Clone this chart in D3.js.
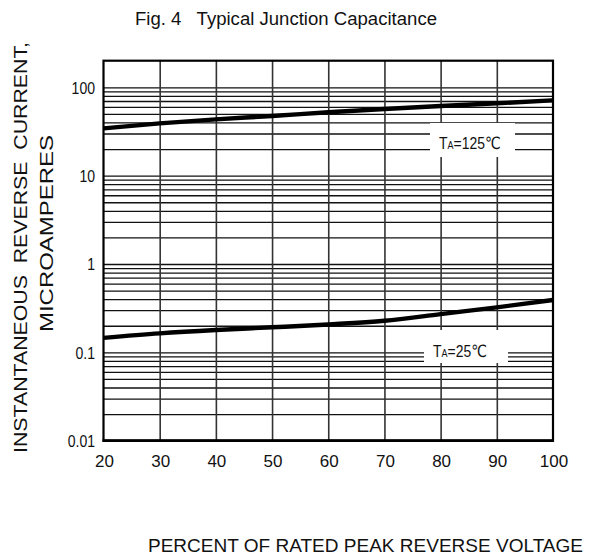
<!DOCTYPE html>
<html>
<head>
<meta charset="utf-8">
<script src="https://cdn.jsdelivr.net/npm/d3@7/dist/d3.min.js"></script>
<style>
  html, body { margin: 0; padding: 0; background: #fff; }
  svg { display: block; }
  text { font-family: Arial, "Liberation Sans", "DejaVu Sans", sans-serif; fill: #111; }
</style>
</head>
<body>
<svg id="chart" width="604" height="556"></svg>
<script>
// ---- data ----
const percentVoltage = [20, 30, 40, 50, 60, 70, 80, 90, 100];
const current125 = [34.3, 39.1, 43.4, 47.3, 52.1, 56.8, 61.4, 65.9, 71.2];
const current25 = [0.146, 0.164, 0.179, 0.192, 0.207, 0.228, 0.271, 0.323, 0.391];
const xTickValues = [20, 30, 40, 50, 60, 70, 80, 90, 100];
const yTickValues = [0.01, 0.1, 1, 10, 100];
const yTickLabels = ["0.01", "0.1", "1", "10", "100"];
const titleText = "Fig. 4   Typical Junction Capacitance";
const xLabelText = "PERCENT OF RATED PEAK REVERSE VOLTAGE";
const yLabelLine1 = "INSTANTANEOUS  REVERSE  CURRENT,";
const yLabelLine2 = "MICROAMPERES";
const seriesLabels = [
  { name: "125", sub: "A", pre: "T", post: "=125\u2103" },
  { name: "25", sub: "A", pre: "T", post: "=25\u2103" }
];

// ---- layout ----
const svg = d3.select("#chart");
const L = 103.5, R = 553, T = 60.7, B = 440.7;
const x = d3.scaleLinear().domain([20, 100]).range([L, R]);
const y = d3.scaleLog().domain([0.01, 200]).range([B, T]);

// minor grid values (1..9 per decade)
const gridY = [];
[0.01, 0.1, 1, 10].forEach(dec => { for (let k = 1; k <= 9; k++) gridY.push(+(dec * k).toPrecision(3)); });
gridY.push(100);

// horizontal grid via axis
svg.append("g")
  .attr("transform", `translate(${L},0)`)
  .call(d3.axisLeft(y).tickValues(gridY).tickSize(-(R - L)).tickFormat(""))
  .call(g => g.select(".domain").remove())
  .call(g => g.selectAll(".tick line").attr("stroke", "#111").attr("stroke-width", 1.3));

// vertical grid via axis
svg.append("g")
  .attr("transform", `translate(0,${B})`)
  .call(d3.axisBottom(x).tickValues(xTickValues.slice(1, -1)).tickSize(-(B - T)).tickFormat(""))
  .call(g => g.select(".domain").remove())
  .call(g => g.selectAll(".tick line").attr("stroke", "#333").attr("stroke-width", 1.6));

// label boxes (white, interrupt grid)
const boxes = [
  { x0: 430, x1: 515, y0: 123, y1: 157 },
  { x0: 424, x1: 508, y0: 330, y1: 363 }
];
svg.selectAll("rect.lbox").data(boxes).join("rect")
  .attr("class", "lbox")
  .attr("x", d => d.x0).attr("y", d => d.y0)
  .attr("width", d => d.x1 - d.x0).attr("height", d => d.y1 - d.y0)
  .attr("fill", "#fff");

// frame
svg.append("rect")
  .attr("x", L).attr("y", T).attr("width", R - L).attr("height", B - T)
  .attr("fill", "none").attr("stroke", "#000").attr("stroke-width", 2.2);
svg.append("line")
  .attr("x1", L - 1).attr("x2", R + 1).attr("y1", B).attr("y2", B)
  .attr("stroke", "#000").attr("stroke-width", 2.8);

// curves
const line = d3.line().x(d => x(d[0])).y(d => y(d[1])).curve(d3.curveMonotoneX);
[current125, current25].forEach(vals => {
  svg.append("path")
    .datum(percentVoltage.map((p, i) => [p, vals[i]]))
    .attr("d", line)
    .attr("fill", "none").attr("stroke", "#000").attr("stroke-width", 4.4)
    .attr("stroke-linecap", "butt");
});

// series labels
const labelPos = [{ x: 439, y: 149 }, { x: 433, y: 357 }];
seriesLabels.forEach((s, i) => {
  const t = svg.append("text")
    .attr("transform", `translate(${labelPos[i].x},${labelPos[i].y}) scale(0.82,1)`)
    .attr("font-size", 17);
  t.append("tspan").text(s.pre);
  t.append("tspan").attr("font-size", 11).text(s.sub);
  t.append("tspan").text(s.post);
});

// y tick labels
svg.selectAll("text.ytick").data(yTickValues).join("text")
  .attr("class", "ytick")
  .attr("text-anchor", "end")
  .attr("font-size", 16.5)
  .attr("transform", d => `translate(95,${y(d) + 6.5}) scale(0.85,1)`)
  .text((d, i) => yTickLabels[i]);

// x tick labels
svg.selectAll("text.xtick").data(xTickValues).join("text")
  .attr("class", "xtick")
  .attr("text-anchor", "middle")
  .attr("font-size", 17)
  .attr("x", d => x(d) + 1)
  .attr("y", 467)
  .text(d => d);

// title
svg.append("text")
  .attr("x", 135).attr("y", 25)
  .attr("font-size", 17.5)
  .attr("textLength", 302).attr("lengthAdjust", "spacingAndGlyphs")
  .style("white-space", "pre")
  .text(titleText);

// x axis label
svg.append("text")
  .attr("x", 148).attr("y", 552)
  .attr("font-size", 17.5)
  .attr("textLength", 435).attr("lengthAdjust", "spacingAndGlyphs")
  .text(xLabelText);

// y axis label (two lines)
svg.append("text")
  .attr("transform", "translate(27,247.5) rotate(-90)")
  .attr("text-anchor", "middle")
  .attr("font-size", 17.5)
  .attr("textLength", 411).attr("lengthAdjust", "spacingAndGlyphs")
  .style("white-space", "pre")
  .text(yLabelLine1);
svg.append("text")
  .attr("transform", "translate(53,233.5) rotate(-90)")
  .attr("text-anchor", "middle")
  .attr("font-size", 17.5)
  .attr("textLength", 197).attr("lengthAdjust", "spacingAndGlyphs")
  .text(yLabelLine2);
</script>
</body>
</html>
